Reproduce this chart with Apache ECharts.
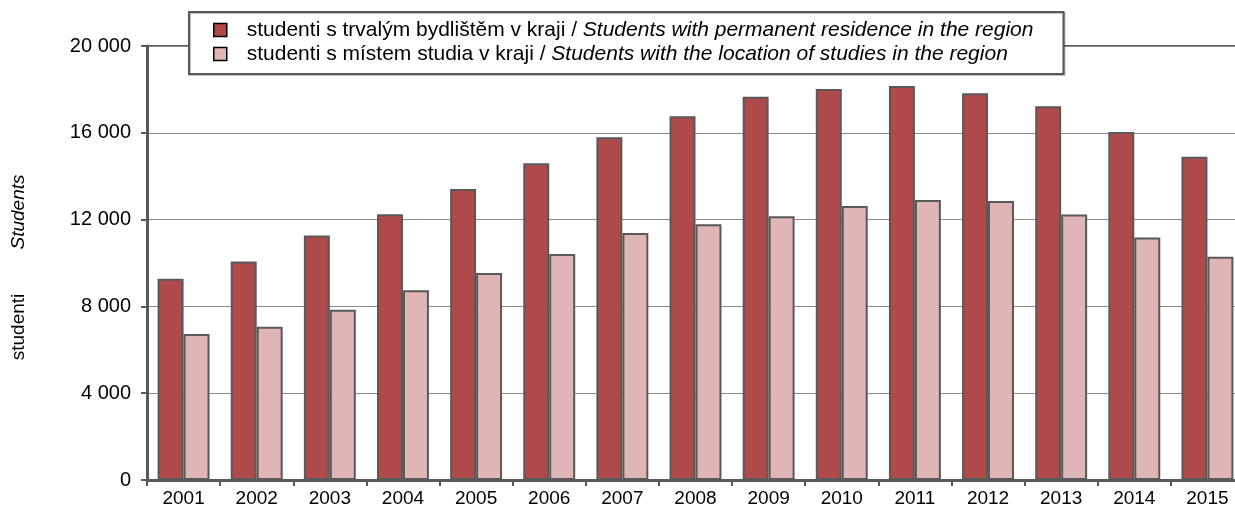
<!DOCTYPE html>
<html>
<head>
<meta charset="utf-8">
<script src="https://cdn.jsdelivr.net/npm/echarts@6/dist/echarts.min.js"></script>
<style>
  html, body { margin: 0; padding: 0; background: #fff; }
  #chart { width: 1235px; height: 513px; }
</style>
</head>
<body>
<div id="chart"></div>
<script>
// data
var years = ['2001', '2002', '2003', '2004', '2005', '2006', '2007', '2008', '2009', '2010', '2011', '2012', '2013', '2014', '2015']
var residence = [9270, 10070, 11270, 12250, 13410, 14600, 15800, 16760, 17660, 18020, 18160, 17820, 17220, 16040, 14900]
var studyPlace = [6730, 7060, 7850, 8750, 9540, 10420, 11380, 11780, 12160, 12630, 12900, 12860, 12240, 11180, 10290]
var nameResidence = 'studenti s trvalým bydlištěm v kraji / '
var nameResidenceEn = 'Students with permanent residence in the region'
var nameStudy = 'studenti s místem studia v kraji / '
var nameStudyEn = 'Students with the location of studies in the region'

var font = 'Liberation Sans, Arial, sans-serif'
var dark = '#595959'

var chart = echarts.init(document.getElementById('chart'))
var option = {
  animation: false,
  textStyle: { fontFamily: font },
  grid: {
    left: 147, top: 46, height: 434, width: 1097,
    outerBoundsMode: 'none',
    containLabel: false,
    show: true, borderColor: dark, borderWidth: 2, backgroundColor: 'transparent'
  },
  legend: {
    orient: 'vertical',
    left: 189,
    top: 12,
    padding: [7, 30, 9, 24],
    itemGap: 2,
    itemWidth: 13,
    itemHeight: 13,
    icon: 'rect',
    backgroundColor: '#fff',
    borderColor: dark,
    borderWidth: 2,
    shadowColor: 'rgba(0,0,0,0.25)',
    shadowOffsetX: 1,
    shadowOffsetY: 1,
    itemStyle: { borderColor: '#000', borderWidth: 1.5 },
    formatter: function (name) {
      if (name === 'res') return '{n|' + nameResidence + '}{i|' + nameResidenceEn + '}'
      return '{n|' + nameStudy + '}{i|' + nameStudyEn + '}'
    },
    textStyle: {
      padding: [0, 0, 0, 15],
      lineHeight: 22,
      rich: {
        n: { fontSize: 21, lineHeight: 22, color: '#000', fontFamily: font },
        i: { fontSize: 21, lineHeight: 22, color: '#000', fontStyle: 'italic', fontFamily: font }
      }
    },
    data: ['res', 'study']
  },
  xAxis: {
    type: 'category',
    data: years,
    boundaryGap: true,
    axisLine: { lineStyle: { color: dark, width: 3 } },
    axisTick: { show: true, length: 6, lineStyle: { color: dark, width: 2 } },
    axisLabel: { color: '#000', fontSize: 19, margin: 9 }
  },
  yAxis: {
    type: 'value',
    min: 0,
    max: 20000,
    interval: 4000,
    axisLine: { show: true, lineStyle: { color: dark, width: 3 } },
    axisTick: { show: true, length: 6, lineStyle: { color: dark, width: 2 } },
    axisLabel: {
      color: '#000', fontSize: 20, margin: 16,
      formatter: function (v) { return String(v).replace(/\B(?=(\d{3})+(?!\d))/g, ' ') }
    },
    splitLine: { lineStyle: { color: '#8c8c8c', width: 1 } }
  },
  graphic: [
    {
      type: 'text', x: 19, y: 212, rotation: Math.PI / 2,
      style: { text: 'Students', fontSize: 19, fontStyle: 'italic', fontFamily: font, fill: '#000', align: 'center', verticalAlign: 'middle' }
    },
    {
      type: 'text', x: 19, y: 327, rotation: Math.PI / 2,
      style: { text: 'studenti', fontSize: 19, fontFamily: font, fill: '#000', align: 'center', verticalAlign: 'middle' }
    }
  ],
  series: [
    {
      name: 'res',
      type: 'bar',
      data: residence,
      barGap: '0%',
      barCategoryGap: '29%',
      itemStyle: { color: '#b04a4a', borderColor: dark, borderWidth: 2 }
    },
    {
      name: 'study',
      type: 'bar',
      data: studyPlace,
      itemStyle: { color: '#dfb5b5', borderColor: dark, borderWidth: 2 }
    }
  ]
}
chart.setOption(option)
</script>
</body>
</html>
